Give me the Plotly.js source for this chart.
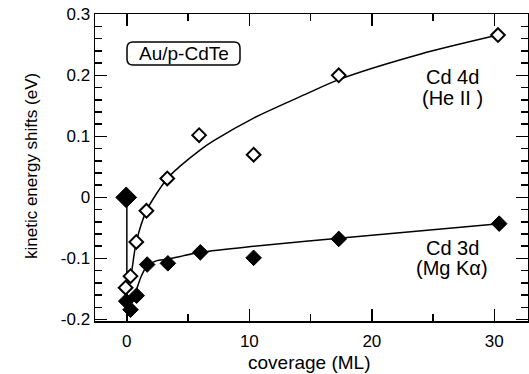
<!DOCTYPE html>
<html>
<head>
<meta charset="utf-8">
<script src="https://cdn.plot.ly/plotly-3.0.1.min.js"></script>
<style>html,body{margin:0;padding:0;background:#fff;}#chart{width:529px;height:374px;}</style>
</head>
<body>
<div id="chart"></div>
<script>
// Cd 4d (He II) measured points – open diamonds
const cd4dX = [-0.1, 0.3, 0.77, 1.6, 3.3, 5.9, 10.35, 17.3, 30.3];
const cd4dY = [-0.148, -0.129, -0.073, -0.022, 0.031, 0.102, 0.070, 0.200, 0.266];
// Cd 3d (Mg Ka) measured points – filled diamonds
const cd3dX = [-0.05, 0.3, 0.8, 1.66, 3.35, 6.0, 10.35, 17.3, 30.4];
const cd3dY = [-0.170, -0.184, -0.161, -0.110, -0.108, -0.090, -0.099, -0.068, -0.043];
// clean-surface reference point (large filled diamond)
const cleanX = [-0.05];
const cleanY = [0.0];
// guide-to-the-eye curves
const fit4dX = [-0.1, 0.3, 0.77, 1.6, 3.3, 4.4, 6.0, 7.1, 10.35, 14.7, 17.3, 24, 30.3];
const fit4dY = [-0.148, -0.13, -0.073, -0.022, 0.031, 0.052, 0.078, 0.093, 0.130, 0.170, 0.193, 0.235, 0.266];
const fit3dDropX = [0.0, 0.0];
const fit3dDropY = [0.0, -0.172];
const fit3dX = [0.1, 0.4, 0.8, 1.2, 1.66, 2.4, 3.35, 6.0, 10.35, 17.3, 30.4];
const fit3dY = [-0.180, -0.168, -0.150, -0.128, -0.112, -0.104, -0.101, -0.090, -0.080, -0.067, -0.043];
// axis ticks
const xTickVals = [0, 10, 20, 30];
const xTickText = ['0', '10', '20', '30'];
const yTickVals = [-0.2, -0.1, 0, 0.1, 0.2, 0.3];
const yTickText = ['-0.2', '-0.1', '0', '0.1', '0.2', '0.3'];
// titles and labels
const xTitle = 'coverage (ML)';
const yTitle = 'kinetic energy shifts (eV)';
const sampleLabel = 'Au/p-CdTe';
const seriesLabels = [['Cd 4d', '(He II )'], ['Cd 3d', '(Mg Kα)']];

const FONT = 'Liberation Sans, Arial, Helvetica, sans-serif';
const W = 529, H = 374, ML = 95, MR = 1, MT = 14, MB = 53;
const pw = W - ML - MR, ph = H - MT - MB;
const px2x = p => (p - ML) / pw;
const px2y = p => (H - MB - p) / ph;
const XR = [-2.6, 32.75], YR = [-0.2025, 0.3005];

// rounded box around the sample label (pixel geometry -> paper coords)
function roundedBox(x0, y0, x1, y1, r) {
  const X = px2x, Y = px2y;
  return `M ${X(x0 + r)} ${Y(y0)} L ${X(x1 - r)} ${Y(y0)} Q ${X(x1)} ${Y(y0)} ${X(x1)} ${Y(y0 + r)} ` +
    `L ${X(x1)} ${Y(y1 - r)} Q ${X(x1)} ${Y(y1)} ${X(x1 - r)} ${Y(y1)} ` +
    `L ${X(x0 + r)} ${Y(y1)} Q ${X(x0)} ${Y(y1)} ${X(x0)} ${Y(y1 - r)} ` +
    `L ${X(x0)} ${Y(y0 + r)} Q ${X(x0)} ${Y(y0)} ${X(x0 + r)} ${Y(y0)} Z`;
}

const traces = [
  {x: fit4dX, y: fit4dY, mode: 'lines', line: {color: '#000', width: 1.5, shape: 'spline', smoothing: 0.8}, hoverinfo: 'skip'},
  {x: fit3dDropX, y: fit3dDropY, mode: 'lines', line: {color: '#000', width: 1.5}, hoverinfo: 'skip'},
  {x: fit3dX, y: fit3dY, mode: 'lines', line: {color: '#000', width: 1.5, shape: 'spline', smoothing: 0.8}, hoverinfo: 'skip'},
  {x: cd4dX, y: cd4dY, mode: 'markers', name: 'Cd 4d (He II)',
   marker: {symbol: 'diamond', size: 10.5, color: '#fff', line: {color: '#000', width: 2}}},
  {x: cd3dX, y: cd3dY, mode: 'markers', name: 'Cd 3d (Mg Kα)',
   marker: {symbol: 'diamond', size: 12, color: '#000', line: {color: '#000', width: 1}}},
  {x: cleanX, y: cleanY, mode: 'markers', name: 'clean',
   marker: {symbol: 'diamond', size: 16, color: '#000', line: {color: '#000', width: 1}}},
  // empty traces so the extra tick-only axes are drawn
  {x: [], y: [], xaxis: 'x2', yaxis: 'y2', mode: 'markers', hoverinfo: 'skip'},
  {x: [], y: [], xaxis: 'x3', yaxis: 'y', mode: 'markers', hoverinfo: 'skip'}
];

const tickCommon = {
  showgrid: false, zeroline: false, showline: true, linecolor: '#000', linewidth: 1.5,
  ticks: 'inside', ticklen: 12, tickwidth: 1.5, tickcolor: '#000',
  tickfont: {family: FONT, size: 17, color: '#000'}
};
const xMinor = {tickmode: 'linear', tick0: 0, dtick: 5, ticks: 'inside', ticklen: 7, tickwidth: 1.5, tickcolor: '#000'};
const yMinor = {tickmode: 'linear', tick0: 0, dtick: 0.02, ticks: 'inside', ticklen: 7, tickwidth: 1.5, tickcolor: '#000'};

const txt = (text, xp, yp, size, extra) => Object.assign({
  text: text, xref: 'paper', yref: 'paper', x: px2x(xp), y: px2y(yp), showarrow: false,
  xanchor: 'center', yanchor: 'middle', font: {family: FONT, size: size, color: '#000'}
}, extra || {});

const layout = {
  width: W, height: H,
  margin: {l: ML, r: MR, t: MT, b: MB, pad: 0},
  paper_bgcolor: '#fff', plot_bgcolor: '#fff',
  showlegend: false,
  font: {family: FONT, color: '#000'},
  // bottom axis: labels only (invisible outside ticks push the labels down a little)
  xaxis: Object.assign({}, tickCommon, {
    range: XR, tickmode: 'array', tickvals: xTickVals, ticktext: xTickText,
    ticks: 'outside', ticklen: 4, tickcolor: 'rgba(0,0,0,0)'
  }),
  // bottom axis: inside major + minor ticks
  xaxis3: Object.assign({}, tickCommon, {
    overlaying: 'x', side: 'bottom', anchor: 'y', range: XR, tickmode: 'array', tickvals: xTickVals,
    showticklabels: false, minor: xMinor
  }),
  yaxis: Object.assign({}, tickCommon, {
    range: YR, tickmode: 'array', tickvals: yTickVals, ticktext: yTickText,
    minor: yMinor
  }),
  xaxis2: Object.assign({}, tickCommon, {
    overlaying: 'x', side: 'top', anchor: 'y2', range: XR, tickmode: 'array', tickvals: xTickVals,
    showticklabels: false, minor: xMinor
  }),
  yaxis2: Object.assign({}, tickCommon, {
    overlaying: 'y', side: 'right', anchor: 'x2', range: YR, tickmode: 'array', tickvals: yTickVals,
    showticklabels: false, minor: yMinor
  }),
  shapes: [
    {type: 'path', xref: 'paper', yref: 'paper', path: roundedBox(127, 42, 240, 65, 6),
     line: {color: '#000', width: 1.5}, fillcolor: 'rgba(0,0,0,0)'}
  ],
  annotations: [
    txt(xTitle, 309, 362, 19),
    txt(yTitle, 31, 166, 17, {textangle: -90}),
    txt(sampleLabel, 183.5, 53.5, 19),
    txt(seriesLabels[0][0], 452, 77, 20),
    txt(seriesLabels[0][1], 452, 98, 20),
    txt(seriesLabels[1][0], 452, 248, 20),
    txt(seriesLabels[1][1], 452, 268, 20)
  ]
};

Plotly.newPlot('chart', traces, layout, {staticPlot: true, displayModeBar: false});
</script>
</body>
</html>
